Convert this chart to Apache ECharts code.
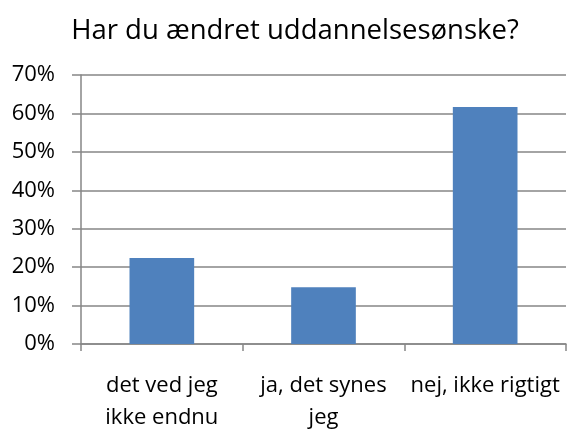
<!DOCTYPE html>
<html>
<head>
<meta charset="utf-8">
<script src="https://cdn.jsdelivr.net/npm/echarts@6/dist/echarts.min.js"></script>
<style>
html,body{margin:0;padding:0;background:#fff;}
#chart{width:568px;height:431px;}
</style>
</head>
<body>
<div id="chart"></div>
<script>
// data
var titel = 'Har du ændret uddannelsesønske?';
var kategorier = ['det ved jeg\nikke endnu', 'ja, det synes\njeg', 'nej, ikke rigtigt'];
var andele = [22.4, 14.8, 61.7];
var yTicks = [0, 10, 20, 30, 40, 50, 60, 70];

var chart = echarts.init(document.getElementById('chart'));
chart.setOption({
	animation: false,
	title: {
		text: titel,
		left: 290,
		textAlign: 'center',
		top: 12,
		textStyle: {fontFamily: 'Open Sans', fontSize: 27.5, fontWeight: 'normal', color: '#000'}
	},
	grid: {left: 81, right: 2, top: 75, bottom: 87, containLabel: false, outerBoundsMode: 'none'},
	xAxis: {
		type: 'category',
		data: kategorier,
		axisLine: {lineStyle: {color: '#868686', width: 1.5}},
		axisTick: {show: true, length: 7, lineStyle: {color: '#868686', width: 1.5}},
		axisLabel: {interval: 0, hideOverlap: false, fontFamily: 'Open Sans', fontSize: 22, color: '#000', margin: 26, lineHeight: 32}
	},
	yAxis: {
		type: 'value',
		min: yTicks[0],
		max: yTicks[yTicks.length - 1],
		interval: 10,
		axisLine: {show: true, lineStyle: {color: '#868686', width: 1.5}},
		axisTick: {show: true, length: 9, lineStyle: {color: '#868686', width: 1.5}},
		splitLine: {lineStyle: {color: '#868686', width: 1.5}},
		axisLabel: {fontFamily: 'Open Sans', fontSize: 22, color: '#000', margin: 26, formatter: '{value}%'}
	},
	series: [{
		type: 'bar',
		data: andele,
		barWidth: '40%',
		itemStyle: {color: '#4F81BD'}
	}]
});
</script>
</body>
</html>
